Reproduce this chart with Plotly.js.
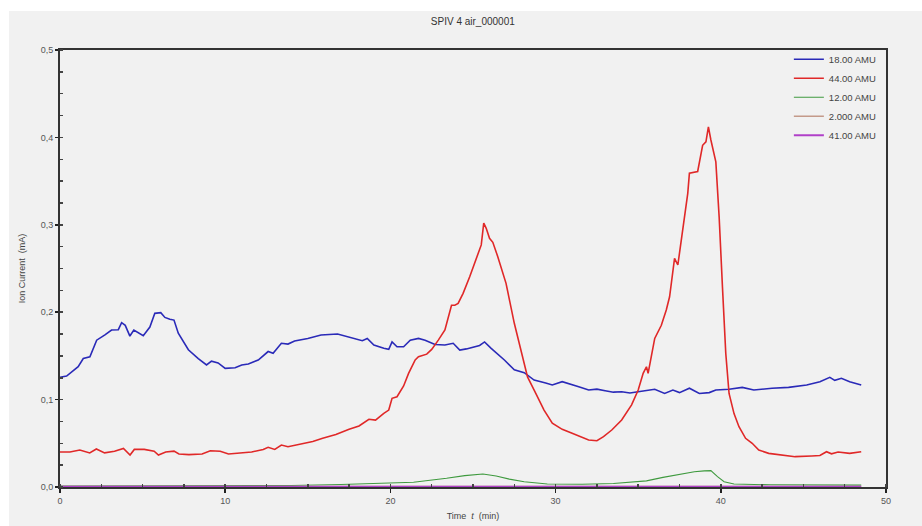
<!DOCTYPE html>
<html>
<head>
<meta charset="utf-8">
<script src="https://cdn.plot.ly/plotly-3.0.1.min.js"></script>
<style>
html, body { margin: 0; padding: 0; background: #ffffff; width: 922px; height: 526px; overflow: hidden; }
#plot { position: absolute; left: 9px; top: 11px; width: 913px; height: 515px; }
</style>
</head>
<body>
<div id="plot"></div>
<script>
// 18.00 AMU
const t18 = [0,0.4,1.1,1.41,1.81,2.22,2.72,3.12,3.53,3.73,3.95,4.23,4.47,5.04,5.44,5.74,6.1,6.35,6.65,6.9,7.16,7.77,8.37,8.87,9.17,9.57,10.0,10.6,11.0,11.4,12.0,12.6,12.9,13.4,13.8,14.2,15.0,15.8,16.8,17.6,18.3,18.6,19.0,19.6,19.9,20.1,20.4,20.8,21.2,21.7,22.1,22.7,23.3,23.8,24.2,24.6,25.1,25.4,25.7,26.1,26.9,27.5,28.1,28.7,29.4,29.8,30.4,30.9,31.4,32.0,32.5,33.0,33.5,34.0,34.5,35.0,35.5,36.0,36.6,37.1,37.5,38.1,38.7,39.3,39.7,40.5,41.3,42.0,43.1,44.1,45.2,46.0,46.6,46.9,47.3,47.8,48.5];
const amu18 = [0.1255,0.127,0.1377,0.147,0.149,0.168,0.174,0.1796,0.180,0.188,0.185,0.1727,0.1796,0.173,0.183,0.1987,0.1995,0.194,0.192,0.191,0.176,0.157,0.147,0.1396,0.144,0.142,0.1358,0.1365,0.1396,0.1407,0.1453,0.155,0.153,0.1644,0.1635,0.167,0.170,0.174,0.175,0.171,0.1674,0.170,0.1625,0.1587,0.1575,0.166,0.1605,0.1605,0.168,0.170,0.168,0.163,0.1625,0.1644,0.1567,0.158,0.160,0.162,0.166,0.1587,0.1453,0.134,0.1308,0.1224,0.119,0.1167,0.1205,0.118,0.1148,0.111,0.112,0.1102,0.1085,0.109,0.1075,0.109,0.1105,0.1118,0.107,0.111,0.108,0.113,0.107,0.108,0.111,0.1118,0.114,0.111,0.113,0.114,0.1167,0.1205,0.1255,0.122,0.1244,0.1205,0.1167];

// 44.00 AMU
const t44 = [0,0.6,1.2,1.8,2.2,2.7,3.3,3.84,4.24,4.5,5.1,5.7,5.96,6.4,6.9,7.2,7.8,8.6,9.1,9.7,10.2,11.0,11.6,12.3,12.6,13.0,13.4,13.8,14.6,15.3,15.9,16.7,17.5,18.1,18.7,19.1,19.6,19.9,20.1,20.4,20.8,21.1,21.5,21.7,22.2,22.5,22.9,23.3,23.7,23.9,24.1,24.4,24.8,25.2,25.5,25.65,25.8,26.0,26.2,26.5,27.0,27.5,27.9,28.3,28.8,29.3,29.8,30.4,31.0,31.5,32.0,32.5,32.9,33.4,34.0,34.6,35.0,35.3,35.5,35.6,36.0,36.4,36.7,36.9,37.2,37.4,37.7,38.0,38.1,38.6,38.9,39.1,39.25,39.4,39.7,39.9,40.1,40.3,40.5,40.8,41.1,41.5,41.9,42.3,42.9,43.7,44.5,45.5,46.0,46.4,46.7,47.1,47.8,48.5];
const amu44 = [0.040,0.040,0.0423,0.039,0.0435,0.039,0.041,0.0442,0.0366,0.043,0.043,0.041,0.0366,0.040,0.041,0.0377,0.037,0.0377,0.0415,0.041,0.0377,0.039,0.040,0.043,0.0454,0.043,0.048,0.046,0.0488,0.052,0.0557,0.060,0.066,0.0698,0.0775,0.0765,0.0843,0.088,0.1015,0.1033,0.1156,0.130,0.1453,0.149,0.152,0.1575,0.168,0.1796,0.208,0.208,0.210,0.2216,0.2406,0.2616,0.277,0.302,0.296,0.2845,0.280,0.2635,0.233,0.1873,0.1567,0.126,0.107,0.088,0.073,0.066,0.0614,0.0576,0.0538,0.053,0.0576,0.0652,0.0767,0.094,0.111,0.130,0.1376,0.130,0.170,0.185,0.2025,0.2177,0.2616,0.254,0.294,0.336,0.359,0.361,0.391,0.395,0.412,0.397,0.372,0.309,0.229,0.153,0.107,0.084,0.069,0.0557,0.050,0.0423,0.0385,0.0366,0.0347,0.0355,0.036,0.0404,0.038,0.040,0.0385,0.0404];

// 12.00 AMU
const t12 = [0,5,10,14,17,19.4,21.4,23.4,24.5,25.6,26.4,27.2,28.1,29.5,31.6,33.5,35.5,36.5,37.2,38.4,39.0,39.4,39.8,40.2,40.8,43,48.5];
const amu12 = [0.001,0.001,0.0012,0.0018,0.0028,0.004,0.0055,0.010,0.013,0.0149,0.0126,0.009,0.006,0.0034,0.0031,0.004,0.007,0.011,0.0137,0.0175,0.0185,0.0187,0.0118,0.006,0.0034,0.0025,0.0022];

// 2.000 AMU and 41.00 AMU (near zero)
const t2 = [0,10,20,30,40,48.5];
const amu2 = [0.0006,0.0006,0.0006,0.0006,0.0006,0.0006];
const t41 = [0,10,20,30,40,48.5];
const amu41 = [0.0003,0.0003,0.0003,0.0003,0.0003,0.0003];

const names = ["18.00 AMU","44.00 AMU","12.00 AMU","2.000 AMU","41.00 AMU"];
const colors = ["#2a2ab8","#e02828","#3f9a3f","#c49a8a","#b040c8"];

const traces = [
  {x:t18, y:amu18, name:names[0], line:{color:colors[0], width:1.6}},
  {x:t44, y:amu44, name:names[1], line:{color:colors[1], width:1.6}},
  {x:t12, y:amu12, name:names[2], line:{color:colors[2], width:1.1}},
  {x:t2, y:amu2, name:names[3], line:{color:colors[3], width:1.5}},
  {x:t41, y:amu41, name:names[4], line:{color:colors[4], width:2.2}}
].map(t => Object.assign({type:"scatter", mode:"lines", hoverinfo:"skip"}, t));

const layout = {
  width: 913, height: 515,
  paper_bgcolor: "#f1f1f1",
  plot_bgcolor: "#f1f1f1",
  margin: {l: 51, r: 36, t: 39, b: 39},
  separators: ", ",
  font: {family: "Liberation Sans, Arial, sans-serif", size: 9, color: "#444"},
  title: {text: "SPIV 4 air_000001", font: {size: 10, color: "#333"}, x: 0.508, xanchor: "center", y: 0.98, yanchor: "middle", yref: "container"},
  showlegend: true,
  legend: {x: 0.995, y: 1.012, xanchor: "right", yanchor: "top", bgcolor: "rgba(0,0,0,0)", font: {size: 9.5, color: "#444"}, tracegroupgap: 0, itemwidth: 30},
  xaxis: {
    range: [0, 50], tickvals: [0,10,20,30,40,50], ticktext: ["0","10","20","30","40","50"],
    showgrid: false, zeroline: false,
    showline: true, linecolor: "#333", linewidth: 2, mirror: true,
    ticks: "outside", ticklen: 4, tickwidth: 1.5, tickcolor: "#222",
    minor: {dtick: 2.5, ticks: "inside", ticklen: 3, tickcolor: "#444", showgrid: false},
    tickfont: {size: 9, color: "#555"},
    title: {text: "Time  <i>t</i>  (min)", font: {size: 9, color: "#444"}, standoff: 8}
  },
  yaxis: {
    range: [0, 0.5], tickvals: [0,0.1,0.2,0.3,0.4,0.5], tickformat: ".1f",
    showgrid: false, zeroline: false,
    showline: true, linecolor: "#333", linewidth: 2, mirror: true,
    ticks: "outside", ticklen: 3, tickwidth: 1.5, tickcolor: "#222",
    minor: {dtick: 0.025, ticks: "inside", ticklen: 3, tickcolor: "#444", showgrid: false},
    tickfont: {size: 9, color: "#555"},
    title: {text: "Ion Current  (mA)", font: {size: 9, color: "#444"}, standoff: 14}
  }
};

Plotly.newPlot("plot", traces, layout, {staticPlot: true, displayModeBar: false});
</script>
</body>
</html>
